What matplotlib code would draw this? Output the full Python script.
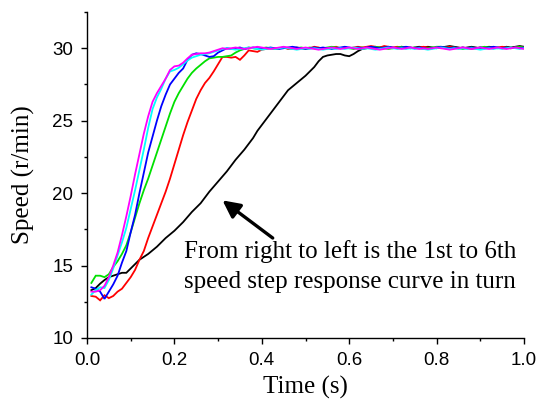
import numpy as np
import matplotlib
matplotlib.use("Agg")
import matplotlib.pyplot as plt
from matplotlib.ticker import MultipleLocator

# time axis (s), sampled every 0.01 s
time_s = np.round(np.arange(1, 101) * 0.01, 2)

speed_1st_black = [
    13.3, 13.45, 13.75, 14.0, 14.2, 14.3, 14.4, 14.5, 14.5, 14.8,
    15.1, 15.4, 15.6, 15.8, 16.05, 16.3, 16.6, 16.9, 17.15, 17.4,
    17.7, 18.0, 18.35, 18.7, 19.0, 19.3, 19.7, 20.1, 20.45, 20.8,
    21.15, 21.5, 21.9, 22.3, 22.65, 23.0, 23.4, 23.8, 24.3, 24.7,
    25.1, 25.5, 25.9, 26.3, 26.7, 27.1, 27.35, 27.6, 27.85, 28.1,
    28.4, 28.7, 29.1, 29.4, 29.5, 29.55, 29.6, 29.6, 29.5, 29.45,
    29.6, 29.8, 29.95, 30.0, 30.05, 30.0, 30.05, 30.1, 30.05, 30.0,
    30.05, 30.1, 30.05, 30.0, 30.05, 30.1, 30.05, 30.1, 30.05, 30.0,
    30.05, 30.1, 30.15, 30.1, 30.05, 30.0, 30.05, 30.1, 30.05, 30.0,
    30.05, 30.1, 30.05, 30.0, 30.05, 30.1, 30.05, 30.1, 30.15, 30.1,
]
speed_2nd_red = [
    12.9, 12.85, 12.6, 12.95, 12.75, 12.9, 13.2, 13.4, 13.8, 14.2,
    14.7, 15.4, 16.0, 16.9, 17.7, 18.5, 19.3, 20.1, 21.0, 22.0,
    23.0, 24.0, 24.9, 25.7, 26.5, 27.1, 27.6, 27.95, 28.4, 28.9,
    29.4, 29.4, 29.35, 29.4, 29.2, 29.5, 29.85, 29.8, 29.75, 29.9,
    29.95, 30.0, 29.95, 30.0, 30.05, 29.95, 30.0, 30.05, 30.0, 29.95,
    30.0, 30.1, 30.05, 29.95, 30.0, 30.05, 30.1, 30.0, 30.05, 30.0,
    30.05, 30.1, 30.05, 30.1, 30.15, 30.1, 30.05, 30.15, 30.1, 30.05,
    30.1, 30.05, 30.0, 30.05, 30.0, 30.05, 30.1, 30.05, 30.0, 30.05,
    30.0, 30.05, 30.1, 30.05, 30.0, 30.05, 30.0, 29.95, 30.0, 30.05,
    30.0, 30.05, 30.0, 30.05, 30.1, 30.05, 30.0, 30.05, 30.1, 30.05,
]
speed_3rd_green = [
    13.8, 14.3, 14.3, 14.2, 14.4, 14.9, 15.3, 15.8, 16.4, 17.3,
    18.3, 19.3, 20.2, 21.0, 21.9, 22.8, 23.7, 24.6, 25.5, 26.3,
    26.9, 27.4, 27.9, 28.3, 28.6, 28.85, 29.1, 29.3, 29.35, 29.4,
    29.4, 29.45, 29.5, 29.7, 29.85, 29.95, 30.05, 30.0, 29.95, 30.0,
    30.05, 30.0, 29.95, 30.0, 30.05, 30.0, 29.95, 30.0, 30.05, 30.0,
    30.05, 30.0, 29.95, 30.0, 30.05, 30.1, 30.05, 30.0, 30.05, 30.0,
    29.95, 30.0, 30.05, 30.0, 30.05, 30.1, 30.05, 30.0, 29.95, 30.0,
    30.05, 30.1, 30.05, 30.0, 30.05, 30.0, 29.95, 30.0, 30.05, 30.1,
    30.1, 30.05, 30.0, 30.05, 30.0, 29.95, 30.0, 30.05, 30.0, 30.05,
    30.1, 30.05, 30.0, 30.05, 30.0, 30.05, 30.0, 30.05, 30.1, 30.05,
]
speed_4th_blue = [
    13.5, 13.4, 13.2, 12.7, 13.2, 13.7, 14.3, 15.2, 16.0, 17.3,
    18.5, 20.0, 21.4, 22.8, 23.9, 25.0, 26.0, 26.8, 27.5, 27.9,
    28.3, 28.6, 29.2, 29.55, 29.65, 29.6, 29.5, 29.4, 29.45, 29.7,
    29.85, 30.0, 29.95, 30.0, 30.05, 29.95, 30.0, 30.05, 30.0, 29.95,
    30.0, 30.05, 30.0, 29.95, 30.0, 30.05, 30.1, 30.05, 30.0, 29.95,
    30.0, 30.05, 30.0, 30.05, 30.0, 29.95, 30.0, 30.05, 30.1, 30.05,
    30.0, 30.05, 30.0, 30.05, 30.1, 30.05, 30.0, 30.05, 30.1, 30.05,
    30.0, 30.05, 30.1, 30.05, 30.0, 30.05, 30.0, 29.95, 30.0, 30.05,
    30.1, 30.05, 30.0, 30.05, 30.0, 30.05, 30.0, 30.05, 30.0, 30.05,
    30.0, 30.05, 30.1, 30.05, 30.0, 30.05, 30.0, 30.05, 30.0, 30.05,
]
speed_5th_cyan = [
    13.0, 13.3, 13.5, 13.45, 14.0, 14.8, 15.7, 16.6, 17.6, 18.9,
    20.2, 21.6, 23.0, 24.5, 25.8, 26.6, 27.2, 27.9, 28.4, 28.5,
    28.65, 28.9, 29.15, 29.35, 29.45, 29.55, 29.6, 29.65, 29.75, 29.85,
    29.95, 30.0, 29.95, 29.9, 29.95, 30.0, 30.05, 30.0, 29.95, 29.9,
    29.95, 30.0, 29.95, 30.0, 30.05, 30.0, 29.95, 29.9, 29.95, 30.0,
    29.95, 30.0, 29.95, 29.9, 29.95, 30.0, 29.95, 30.0, 29.95, 30.0,
    30.05, 30.0, 29.95, 30.0, 29.95, 29.9, 29.95, 30.0, 30.05, 30.0,
    29.95, 30.0, 29.95, 30.0, 29.95, 30.0, 29.95, 29.9, 29.95, 30.0,
    30.05, 30.0, 29.95, 30.0, 29.95, 30.0, 29.95, 30.0, 29.95, 29.9,
    29.95, 30.0, 29.95, 30.0, 29.95, 30.0, 30.05, 30.0, 29.95, 30.0,
]
speed_6th_magenta = [
    13.2, 13.2, 13.3, 13.6, 14.2, 15.0, 15.9, 17.1, 18.4, 19.8,
    21.3, 22.7, 24.1, 25.3, 26.3, 26.9, 27.4, 27.9, 28.5, 28.75,
    28.8, 29.0, 29.3, 29.55, 29.6, 29.65, 29.65, 29.7, 29.8, 29.9,
    30.0, 29.95, 30.0, 30.05, 30.0, 29.95, 30.0, 30.05, 30.1, 30.05,
    30.0, 29.95, 30.0, 30.05, 30.1, 30.05, 30.0, 29.95, 30.0, 30.05,
    30.0, 29.95, 29.9, 29.95, 30.0, 30.05, 30.0, 29.95, 30.0, 30.05,
    30.0, 29.95, 30.0, 30.05, 30.0, 29.95, 29.9, 29.95, 30.0, 30.05,
    30.0, 29.95, 30.0, 30.05, 30.0, 29.95, 30.0, 29.95, 30.0, 30.05,
    30.0, 29.95, 29.9, 29.95, 30.0, 30.05, 30.0, 29.95, 30.0, 30.05,
    30.0, 29.95, 30.0, 30.05, 30.0, 29.95, 30.0, 30.05, 30.0, 29.95,
]

series = [
    (speed_1st_black, "#000000"),
    (speed_2nd_red, "#ff0000"),
    (speed_3rd_green, "#00e000"),
    (speed_4th_blue, "#0000ff"),
    (speed_5th_cyan, "#00ffff"),
    (speed_6th_magenta, "#ff00ff"),
]

x_ticks = [0.0, 0.2, 0.4, 0.6, 0.8, 1.0]
x_tick_labels = ["0.0", "0.2", "0.4", "0.6", "0.8", "1.0"]
y_ticks = [10, 15, 20, 25, 30]
y_tick_labels = ["10", "15", "20", "25", "30"]

annotation_text = "From right to left is the 1st to 6th\nspeed step response curve in turn"

fig = plt.figure(figsize=(5.39, 4.07), dpi=100)
ax = fig.add_axes([87 / 539, 1 - 338 / 407, (524 - 87) / 539, (338 - 12) / 407])

for vals, col in series:
    ax.plot(time_s, vals, color=col, lw=1.3, solid_joinstyle="miter")

ax.set_xlim(0, 1.0)
ax.set_ylim(10, 32.5)

for side in ("top", "right"):
    ax.spines[side].set_visible(False)
for side in ("left", "bottom"):
    ax.spines[side].set_linewidth(1.0)

ax.set_xticks(x_ticks)
ax.set_xticklabels(x_tick_labels)
ax.set_yticks(y_ticks)
ax.set_yticklabels(y_tick_labels)
ax.xaxis.set_minor_locator(MultipleLocator(0.1))
ax.yaxis.set_minor_locator(MultipleLocator(2.5))
ax.tick_params(which="major", direction="out", length=4, width=1.0, pad=6,
               labelsize=13.5)
ax.tick_params(which="minor", direction="out", length=2.3, width=1.0)
for lab in ax.get_xticklabels() + ax.get_yticklabels():
    lab.set_fontfamily("Liberation Sans")

ax.set_xlabel("Time (s)", fontsize=18, family="Liberation Serif", labelpad=5)
ax.set_ylabel("Speed (r/min)", fontsize=18, family="Liberation Serif", labelpad=12)

ax.annotate("", xy=(0.31, 19.5), xytext=(0.425, 16.9),
            arrowprops=dict(arrowstyle="-|>", lw=2.4, color="k",
                            mutation_scale=26, shrinkA=0, shrinkB=0))
ax.text(0.223, 13.45, annotation_text, fontsize=18, family="Liberation Serif",
        ha="left", va="baseline", linespacing=1.45)

fig.savefig("out.png", dpi=100)
